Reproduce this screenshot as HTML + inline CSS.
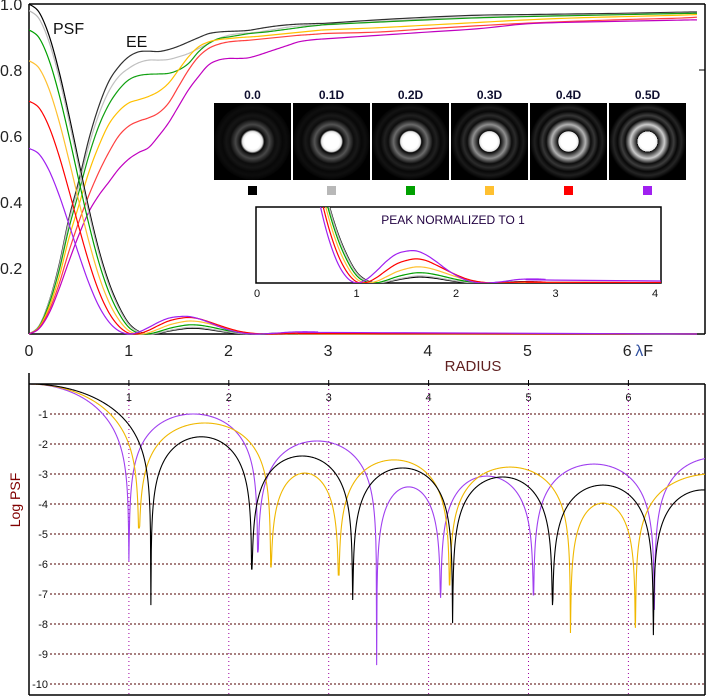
<!DOCTYPE html>
<html><head><meta charset="utf-8"><style>
html,body{margin:0;padding:0;background:#fff;}
svg{display:block;font-family:"Liberation Sans",sans-serif;}
</style></head><body>
<svg id="chart" width="711" height="699" viewBox="0 0 711 699" xmlns="http://www.w3.org/2000/svg">
<defs>
<clipPath id="topclip"><rect x="29" y="0" width="676" height="335"/></clipPath>
<clipPath id="insetclip"><rect x="256" y="207" width="405" height="76"/></clipPath>
<clipPath id="botclip"><rect x="29" y="384" width="676" height="311"/></clipPath>
</defs>
<g id="top-frame">
<line x1="29" y1="4" x2="705" y2="4" stroke="#000" stroke-width="1.5"/>
<line x1="29" y1="4" x2="29" y2="334" stroke="#000" stroke-width="1.5"/>
<line x1="705" y1="4" x2="705" y2="334" stroke="#000" stroke-width="1.5"/>
<line x1="29" y1="334" x2="705" y2="334" stroke="#000" stroke-width="1.5"/>
<line x1="699" y1="70" x2="705" y2="70" stroke="#000"/>
</g>
<g id="top-yticks" font-size="16" fill="#222"></g>
<g id="top-xticks" font-size="16" fill="#222"></g>
<text x="473" y="371" font-size="15" fill="#602020" text-anchor="middle">RADIUS</text>
<text x="53" y="34" font-size="16" fill="#111">PSF</text>
<text x="126" y="47" font-size="16" fill="#111">EE</text>
<g id="top-curves" clip-path="url(#topclip)"></g>
<g id="airy-images"></g>
<g id="inset">
<rect x="256" y="207" width="405" height="76" fill="#fff" stroke="#000" stroke-width="1.5"/>
<text x="453" y="224" font-size="12" fill="#200040" text-anchor="middle">PEAK NORMALIZED TO 1</text>
</g>
<g id="inset-curves" clip-path="url(#insetclip)"></g>
<g id="inset-ticks" font-size="11" fill="#111"></g>
<g id="bottom-grid"></g>
<g id="bottom-frame">
<line x1="29" y1="384" x2="705" y2="384" stroke="#000" stroke-width="1.5"/>
<line x1="29" y1="373" x2="29" y2="695" stroke="#000" stroke-width="1.5"/>
<line x1="705" y1="384" x2="705" y2="695" stroke="#000" stroke-width="1.5"/>
<line x1="29" y1="695" x2="705" y2="695" stroke="#000" stroke-width="1.5"/>
</g>
<text transform="translate(20,500) rotate(-90)" font-size="14" fill="#800000" text-anchor="middle">Log PSF</text>
<g id="bottom-curves" clip-path="url(#botclip)"></g>
</svg>
<script>
// ---- Top chart data ----
const psfR = [0,0.1,0.2,0.3,0.4,0.5,0.6,0.7,0.8,0.9,1.0,1.1,1.2,1.3,1.4,1.5,1.6,1.7,1.8,1.9,2.0,2.1,2.2,2.3,2.4,2.5,2.6,2.7,2.8,2.9,3.0,6.7];
const psf00 = [1,.9755,.9054,.7974,.6642,.5209,.3802,.2557,.1573,.0848,.0328,.0082,.0002,.0024,.0085,.0136,.0172,.0168,.0135,.0089,.0046,.0014,.0001,.0003,.0014,.0026,.0037,.0041,.0034,.0024,.0016,0];
const psf01 = [.9801,.9558,.8865,.7796,.648,.5066,.368,.2458,.1495,.0792,.0294,.0065,0,.0034,.0104,.0159,.0199,.0195,.0159,.0109,.006,.0022,.0004,0,.0007,.0017,.0026,.0029,.0024,.0016,.0009,0];
const psf02 = [.9216,.8981,.831,.728,.6011,.4654,.3333,.2178,.1281,.0639,.0205,.0028,.0006,.0073,.0165,.0232,.0276,.0269,.0224,.0162,.0099,.0047,.0016,.0002,.0001,.0005,.0012,.0014,.0011,.0007,.0003,0];
const psf03 = [.8281,.806,.7429,.6463,.5279,.4022,.2811,.1768,.0978,.0437,.0102,.0001,.004,.0151,.0269,.0346,.0392,.0376,.0315,.0235,.0153,.0082,.0036,.001,.0001,.0001,.0005,.0008,.0007,.0004,.0001,0];
const psf04 = [.7056,.6856,.6285,.5414,.4356,.3243,.2187,.1301,.0655,.0241,.0026,.0012,.0111,.026,.0393,.0467,.0501,.0465,.0374,.0271,.0172,.0089,.0036,.0008,0,.0005,.0015,.0022,.0022,.0019,.0014,0];
const psf05 = [.5625,.5454,.4965,.4224,.333,.2406,.1547,.085,.0371,.0097,0,.006,.0198,.0358,.0478,.0526,.0531,.0465,.0356,.0231,.0127,.005,.001,0,.0011,.003,.0054,.0065,.0067,.006,.0048,0];
const eeR = [0,0.1,0.2,0.3,0.4,0.5,0.6,0.7,0.8,0.9,1.0,1.1,1.2,1.3,1.4,1.5,1.6,1.7,1.8,1.9,2.0,2.1,2.2,2.3,2.4,2.5,2.6,2.7,2.8,2.9,3.0,3.5,4.0,4.5,5.0,5.5,6.0,6.5,6.7];
const ee00 = [0,.024,.097,.207,.35,.465,.59,.69,.765,.81,.84,.855,.857,.856,.862,.872,.885,.898,.91,.915,.917,.918,.92,.925,.93,.934,.937,.939,.94,.941,.942,.952,.96,.966,.968,.97,.972,.975,.976];
const ee01 = [0,.024,.095,.2,.34,.45,.57,.665,.735,.78,.805,.822,.83,.83,.832,.84,.85,.865,.88,.895,.905,.91,.912,.915,.92,.925,.93,.933,.935,.936,.937,.947,.955,.96,.963,.966,.969,.972,.973];
const ee02 = [0,.022,.09,.19,.32,.43,.54,.63,.695,.74,.77,.783,.787,.788,.79,.8,.82,.855,.88,.895,.9,.905,.91,.913,.916,.92,.924,.928,.932,.935,.938,.945,.952,.958,.962,.965,.968,.971,.972];
const ee03 = [0,.02,.08,.17,.29,.39,.49,.57,.635,.675,.7,.71,.72,.735,.76,.8,.84,.87,.885,.892,.895,.898,.9,.902,.905,.908,.911,.914,.917,.92,.922,.928,.936,.944,.952,.958,.962,.966,.968];
const ee04 = [0,.018,.07,.15,.25,.34,.42,.49,.55,.6,.63,.645,.655,.67,.7,.75,.8,.84,.865,.878,.885,.888,.89,.893,.896,.899,.902,.905,.907,.909,.911,.915,.925,.934,.942,.948,.953,.957,.96];
const ee05 = [0,.016,.062,.135,.22,.3,.37,.42,.46,.5,.53,.55,.565,.6,.64,.69,.74,.78,.815,.83,.835,.835,.837,.845,.855,.865,.875,.885,.89,.893,.895,.905,.915,.925,.94,.945,.948,.951,.952];
const obstructionLabels = ["0.0","0.1D","0.2D","0.3D","0.4D","0.5D"];
const yTickLabels = ["1.0","0.8","0.6","0.4","0.2"];
const yTickValues = [1.0,0.8,0.6,0.4,0.2];
const xTickValues = [0,1,2,3,4,5,6];
const insetTickValues = [0,1,2,3,4];
// ---- Log chart data (zeros, dip depths, lobe peaks) ----
const logBlackZeros = [1.22,2.23,3.24,4.24,5.24,6.25,7.25];
const logBlackDepths = [-7.37,-6.17,-7.2,-7.97,-7.37,-8.37,-8];
const logBlackPeaks = [0,-1.76,-2.4,-2.8,-3.1,-3.37,-3.53];
const logYellowZeros = [1.1,2.42,3.1,4.21,5.42,6.07,7.6];
const logYellowDepths = [-4.8,-6.1,-6.37,-6.7,-8.3,-8.13,-8];
const logYellowPeaks = [0,-1.3,-2.97,-2.53,-2.77,-3.97,-3.0];
const logPurpleZeros = [1.0,2.29,3.48,4.12,5.05,6.26,7.5];
const logPurpleDepths = [-5.9,-5.6,-9.37,-7.13,-7.03,-7.53,-8];
const logPurplePeaks = [0,-1.0,-1.9,-3.43,-3.07,-2.67,-2.45];
const logYTicks = [-1,-2,-3,-4,-5,-6,-7,-8,-9,-10];

const NS = "http://www.w3.org/2000/svg";
const colors = ["#000000","#b8b8b8","#00a000","#ffc030","#ff0000","#a020f0"];
const eeColors = ["#303030","#c0c0c0","#10a010","#ffc000","#ff4040","#c000c0"];
const topX = r => 29 + r*99.7;
const topY = v => 334 - v*330;
const inX = r => 257 + r*99.5;
const inY = v => 283 - v*340;
const botX = r => 29 + r*99.9;
const botY = L => 384 - L*30;

function mk(tag, attrs, parent){
  const e = document.createElementNS(NS, tag);
  for (const k in attrs) e.setAttribute(k, attrs[k]);
  parent.appendChild(e); return e;
}
function smoothPath(pts, yMax){
  let d = "M" + pts[0][0].toFixed(2) + "," + pts[0][1].toFixed(2);
  for (let i=0;i<pts.length-1;i++){
    const p0 = pts[Math.max(0,i-1)], p1 = pts[i], p2 = pts[i+1], p3 = pts[Math.min(pts.length-1,i+2)];
    for (let s=1;s<=8;s++){
      const t=s/8, t2=t*t, t3=t2*t;
      let x = 0.5*((2*p1[0])+(-p0[0]+p2[0])*t+(2*p0[0]-5*p1[0]+4*p2[0]-p3[0])*t2+(-p0[0]+3*p1[0]-3*p2[0]+p3[0])*t3);
      let y = 0.5*((2*p1[1])+(-p0[1]+p2[1])*t+(2*p0[1]-5*p1[1]+4*p2[1]-p3[1])*t2+(-p0[1]+3*p1[1]-3*p2[1]+p3[1])*t3);
      if (y > yMax) y = yMax;
      d += "L" + x.toFixed(2) + "," + y.toFixed(2);
    }
  }
  return d;
}
const svg = document.getElementById("chart");
// ticks
const gy = document.getElementById("top-yticks");
yTickValues.forEach((v,i)=>{
  const t = mk("text",{x:0,y:topY(v)+6},gy);
  t.textContent = yTickLabels[i];
  
  
});
const gx = document.getElementById("top-xticks");
xTickValues.forEach(v=>{
  const t = mk("text",{x:topX(v),y:356,"text-anchor":"middle"},gx);
  t.textContent = String(v);
  
  
});
const lf = mk("text",{x:topX(6)+8,y:356},gx);
lf.innerHTML = '<tspan fill="#3050a0">λ</tspan>F';


// top curves
const psfSeries = [psf00,psf01,psf02,psf03,psf04,psf05];
const eeSeries = [ee00,ee01,ee02,ee03,ee04,ee05];
const gt = document.getElementById("top-curves");
eeSeries.forEach((s,i)=>{
  const p = mk("path",{d:smoothPath(s.map((v,j)=>[topX(eeR[j]),topY(v)]),334),fill:"none",stroke:eeColors[i],"stroke-width":1.2},gt);
  
  
});
psfSeries.forEach((s,i)=>{
  const p = mk("path",{d:smoothPath(s.map((v,j)=>[topX(psfR[j]),topY(v)]),334),fill:"none",stroke:colors[i],"stroke-width":1.2},gt);
  
  
});
// airy images
const ga = document.getElementById("airy-images");
const defs = svg.querySelector("defs");
const ringB = [0.28,0.33,0.42,0.56,0.7,0.8];
obstructionLabels.forEach((lab,i)=>{
  const x0 = 214 + i*79;
  const g = document.createElementNS(NS,"radialGradient");
  g.setAttribute("id","airy"+i);
  defs.appendChild(g);
  const rb = ringB[i];
  const c = v => { const k=Math.round(Math.min(1,v)*255); return "rgb("+k+","+k+","+k+")"; };
  const stops = [[0,1],[0.2,1],[0.26,0.9],[0.31-0.01*i,0.03],[0.44,rb],[0.58,0.05],[0.68,rb*0.3],[0.78,0.03],[0.88,rb*0.18],[0.98,0.02],[1,0]];
  stops.forEach(s=>mk("stop",{offset:s[0],"stop-color":c(s[1])},g));
  const r = mk("rect",{x:x0,y:103,width:77,height:77,fill:"url(#airy"+i+")"},ga);
  
  
  const t = mk("text",{x:x0+38.5,y:99,"text-anchor":"middle","font-size":12,"font-weight":"bold",fill:"#101030"},ga);
  t.textContent = lab;
  
  
  const sw = mk("rect",{x:x0+34,y:186,width:9,height:9,fill:colors[i]},ga);
  
  
});
// inset
const gi = document.getElementById("inset-curves");
psfSeries.forEach((s,i)=>{
  const pk = s[0];
  const p = mk("path",{d:smoothPath(s.map((v,j)=>[inX(psfR[j]),inY(v/pk)]),283),fill:"none",stroke:colors[i],"stroke-width":1.2},gi);
  
  
});
const git = document.getElementById("inset-ticks");
insetTickValues.forEach(v=>{
  const t = mk("text",{x:inX(v),y:297,"text-anchor":"middle"},git);
  t.textContent = String(v);
  
  
});
// bottom grid
const gg = document.getElementById("bottom-grid");
logYTicks.forEach(v=>{
  const l = mk("line",{x1:50,y1:botY(v),x2:705,y2:botY(v),stroke:"#500000","stroke-width":1,"stroke-dasharray":"2,2"},gg);
  
  
  const t = mk("text",{x:48,y:botY(v)+4,"text-anchor":"end","font-size":11,fill:"#111"},gg);
  t.textContent = String(v);
  
  
});
[1,2,3,4,5,6].forEach(v=>{
  const l = mk("line",{x1:botX(v),y1:385,x2:botX(v),y2:695,stroke:"#a000a0","stroke-width":1,"stroke-dasharray":"1,3"},gg);
  
  
  const tk = mk("line",{x1:botX(v),y1:380,x2:botX(v),y2:386,stroke:"#000"},gg);
  
  
  const t = mk("text",{x:botX(v),y:401,"text-anchor":"middle","font-size":11,fill:"#111"},gg);
  t.textContent = String(v);
  
  
});
// bottom curves
function logPath(zeros, depths, peaks){
  const xs = [];
  for (let x=0; x<=6.8; x+=0.004) xs.push(x);
  zeros.forEach(z=>{ if (z<=6.8) xs.push(z); });
  xs.sort((a,b)=>a-b);
  let d = "";
  xs.forEach((x,k)=>{
    let idx = 0; while (idx<zeros.length && x>zeros[idx]) idx++;
    let L;
    if (idx===0){
      const u = x/zeros[0];
      const s = u===0 ? 1 : Math.sin(Math.PI*u)/(Math.PI*u);
      L = 2*Math.log10(Math.max(Math.abs(s),1e-12));
    } else {
      const za = zeros[idx-1], zb = zeros[idx];
      const t = (x-za)/(zb-za);
      L = peaks[idx] + 2*Math.log10(Math.max(Math.abs(Math.sin(Math.PI*t)),1e-12));
    }
    let near = 0, best = 1e9;
    zeros.forEach((z,j)=>{ const dd=Math.abs(x-z); if (dd<best){best=dd;near=j;} });
    if (L < depths[near]) L = depths[near];
    d += (k?"L":"M") + botX(x).toFixed(2) + "," + botY(L).toFixed(2);
  });
  return d;
}
const gb = document.getElementById("bottom-curves");
const pb1 = mk("path",{d:logPath(logPurpleZeros,logPurpleDepths,logPurplePeaks),fill:"none",stroke:"#a040f0","stroke-width":1.1},gb);


const pb2 = mk("path",{d:logPath(logYellowZeros,logYellowDepths,logYellowPeaks),fill:"none",stroke:"#f0b800","stroke-width":1.1},gb);


const pb3 = mk("path",{d:logPath(logBlackZeros,logBlackDepths,logBlackPeaks),fill:"none",stroke:"#000","stroke-width":1.1},gb);


</script>
</body></html>
